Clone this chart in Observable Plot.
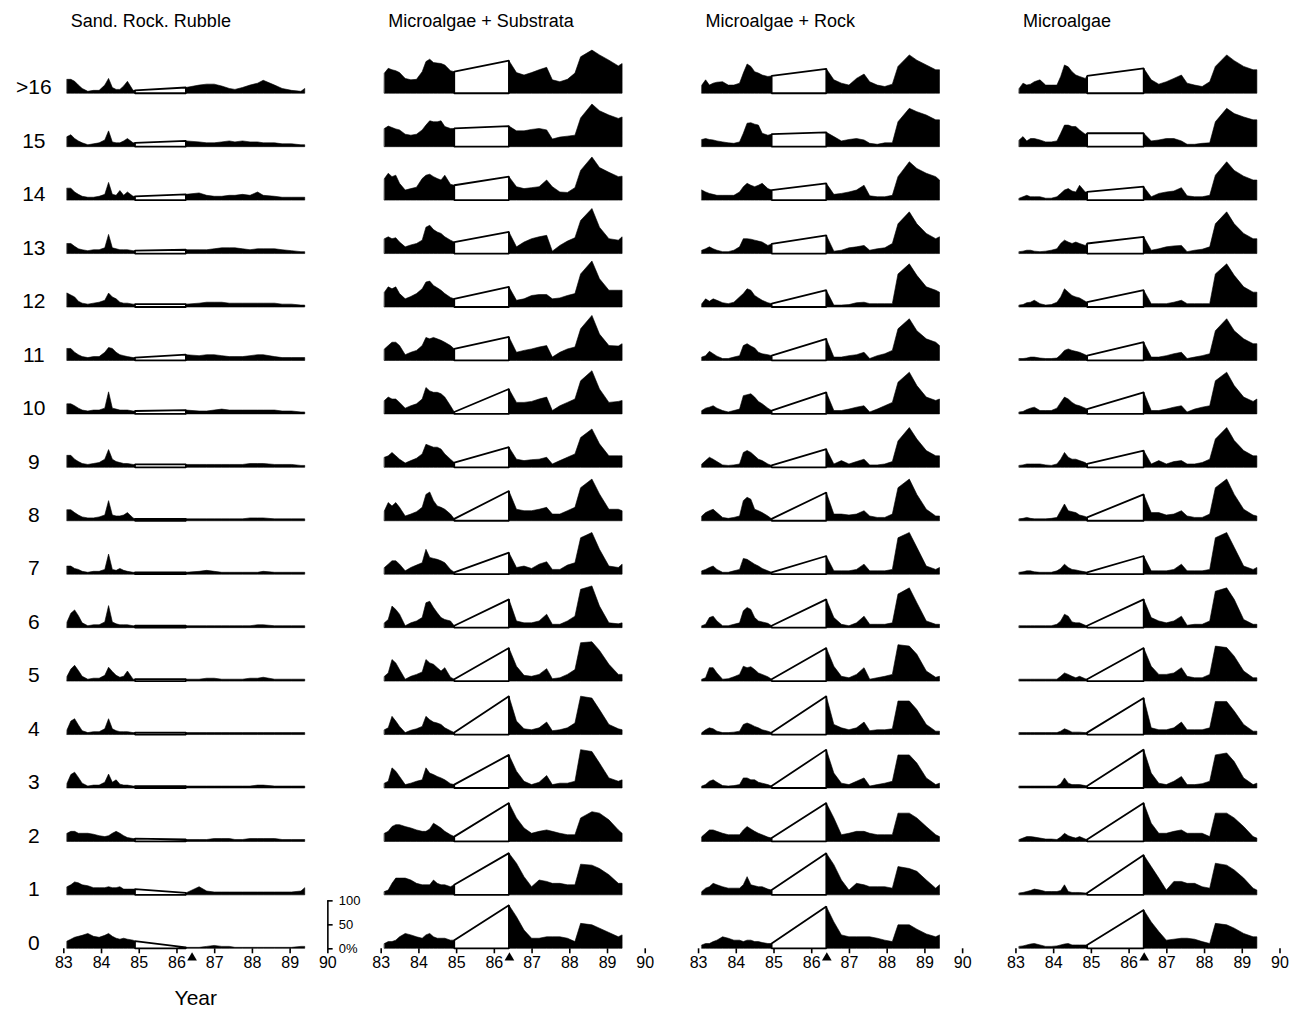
<!DOCTYPE html>
<html><head><meta charset="utf-8">
<script src="https://cdn.jsdelivr.net/npm/d3@7"></script>
<script src="https://cdn.jsdelivr.net/npm/@observablehq/plot@0.6"></script>
<style>html,body{margin:0;padding:0;background:#fff;} #chart{width:1293px;height:1010px;}</style>
</head><body><div id="chart"></div><script>
const panels = ["Sand. Rock. Rubble", "Microalgae + Substrata", "Microalgae + Rock", "Microalgae"];
const rowLabels = [">16","15","14","13","12","11","10","9","8","7","6","5","4","3","2","1","0"];
const yearTicks = [83,84,85,86,87,88,89,90];
const scaleTicks = [0, 50, 100];
const seg1Years = [83.1,83.2,83.3,83.4,83.5,83.65,83.8,83.95,84.1,84.2,84.3,84.4,84.5,84.6,84.7,84.85,84.95];
const seg2Years = [86.4,86.6,86.8,87.0,87.2,87.4,87.55,87.75,87.95,88.15,88.3,88.6,88.8,89.05,89.3,89.4];
const gapStart = [84.9, 84.95, 84.95, 84.9];
const gapEnd = [86.25, 86.4, 86.4, 86.4];
const eventYear = [86.4, 86.4, 86.4, 86.4];

// % cover per depth row (>16 ... 0): 17 values before the gap, 16 after
const sandRockRubble = [
 [29,29,25,17,10,4,6,6,17,31,12,8,8,15,25,6,6, 12,17,19,19,15,10,8,12,17,21,27,17,10,6,4,10],
 [21,25,17,12,8,4,6,8,14,33,10,8,8,12,17,8,8, 12,10,8,8,10,12,10,12,10,10,8,8,6,6,4,4],
 [25,25,17,12,8,6,6,8,12,37,12,10,20,10,17,8,8, 12,15,10,8,8,10,10,12,10,17,10,8,6,6,6,6],
 [21,21,15,10,8,6,8,8,12,40,12,10,8,8,8,6,6, 8,8,8,10,12,12,12,10,8,10,10,10,8,6,4,4],
 [29,25,21,12,8,6,8,10,14,29,21,17,10,8,8,6,6, 6,8,10,10,10,8,8,8,8,8,8,8,6,6,4,4],
 [25,25,17,12,8,6,8,8,17,27,25,17,12,10,8,6,6, 12,10,12,12,10,8,8,8,10,12,12,8,6,6,6,6],
 [21,21,17,12,8,6,8,8,12,46,12,10,8,8,8,6,6, 8,6,6,8,10,8,8,8,8,8,8,8,6,6,4,4],
 [25,25,17,12,8,6,8,10,17,37,17,12,10,8,8,6,6, 6,6,6,6,6,6,6,6,8,8,8,6,6,6,4,4],
 [23,23,17,12,8,6,6,8,12,42,12,10,10,12,17,6,4, 4,4,4,4,4,4,4,4,6,6,6,4,4,4,4,4],
 [17,17,12,10,6,4,6,6,10,42,10,8,12,8,6,4,4, 4,6,8,6,4,4,4,4,4,4,6,4,4,4,4,4],
 [12,30,37,25,10,4,6,6,12,46,12,8,6,6,6,4,4, 4,4,4,4,4,4,4,4,4,6,6,4,4,4,4,4],
 [10,25,33,22,10,4,6,6,12,29,20,12,8,10,21,4,4, 4,4,6,6,4,4,4,4,6,6,8,4,4,4,4,4],
 [10,28,33,20,8,4,6,6,12,33,12,8,6,6,6,4,4, 4,4,4,4,4,4,4,4,4,4,4,4,4,4,4,4],
 [10,28,33,22,10,4,6,6,12,29,12,17,8,6,6,4,4, 4,4,4,4,4,4,4,4,4,6,6,4,4,4,4,4],
 [17,21,21,17,17,17,15,12,10,12,17,21,17,12,8,6,6, 4,4,4,6,6,6,4,4,6,6,6,6,4,4,4,4],
 [17,21,27,25,21,19,15,15,15,17,15,15,17,12,12,12,12, 4,17,8,6,6,6,6,6,6,6,6,6,6,6,8,15],
 [15,19,23,25,27,31,25,23,27,31,25,21,19,21,19,17,15, 2,2,4,6,4,4,2,2,2,2,2,2,2,2,4,4]
];
const microalgaeSubstrata = [
 [42,52,49,47,43,31,28,29,45,66,71,64,63,62,59,47,45, 68,43,38,43,49,54,28,24,29,42,76,90,80,69,57,62],
 [38,43,40,37,35,26,24,26,35,45,54,52,52,54,42,38,38, 43,33,33,36,38,35,16,20,22,24,60,89,75,66,59,62],
 [45,56,49,52,35,21,24,27,45,52,54,49,45,42,52,33,31, 49,28,24,26,28,42,28,17,16,26,62,90,68,58,49,50],
 [31,35,31,33,24,14,18,21,28,55,59,50,45,42,35,28,24, 45,14,24,31,35,38,5,17,26,33,69,94,55,31,28,35],
 [31,42,38,42,28,17,22,28,38,52,54,45,40,35,28,20,17, 42,14,17,24,26,26,17,19,24,28,69,96,59,35,35,35],
 [24,31,38,38,31,12,17,21,31,48,45,48,45,42,38,31,24, 49,17,21,24,28,31,7,17,24,28,66,94,55,31,30,35],
 [28,35,31,31,24,12,17,21,31,55,48,45,45,42,35,17,4, 52,24,24,26,31,35,7,17,24,31,69,90,52,24,26,28],
 [21,24,31,24,17,9,14,19,28,48,45,42,42,38,28,17,10, 42,17,14,16,17,21,7,14,21,28,62,80,49,24,24,24],
 [21,38,31,38,28,10,14,19,28,55,60,42,31,28,24,14,4, 62,24,21,21,24,28,14,14,21,28,69,87,56,24,24,21],
 [14,21,28,28,21,7,14,19,24,52,35,33,31,28,24,10,4, 45,14,17,12,21,26,10,10,19,24,76,87,52,17,14,21],
 [10,17,45,38,28,4,10,14,21,52,55,42,31,21,17,14,4, 59,14,10,10,14,28,7,7,14,24,80,87,45,10,8,10],
 [10,17,45,38,24,4,10,14,19,45,38,35,28,21,28,8,4, 69,31,12,10,14,26,5,7,14,24,80,82,64,35,14,14],
 [10,14,38,28,17,4,9,12,17,38,31,26,24,21,14,8,4, 80,28,12,10,14,26,8,10,14,24,80,76,52,21,12,10],
 [10,14,42,35,24,7,10,14,17,42,31,28,24,21,17,9,7, 69,35,14,7,12,26,7,10,10,14,80,76,52,21,14,17],
 [17,21,31,35,35,31,28,24,21,21,26,38,33,28,21,14,10, 80,49,28,17,21,24,21,17,14,14,49,62,59,45,24,17],
 [7,10,24,35,35,35,31,24,21,21,21,31,24,21,21,17,21, 87,66,38,17,31,28,24,24,21,21,64,62,55,42,24,24],
 [10,14,14,17,24,31,28,24,21,28,31,24,21,21,21,17,17, 90,66,38,21,21,24,24,24,21,14,52,49,42,33,24,28]
];
const microalgaeRock = [
 [17,28,17,21,23,24,17,17,21,42,61,56,45,42,38,35,36, 51,28,21,17,31,40,24,17,14,19,56,80,69,59,49,49],
 [15,17,15,14,12,10,8,7,10,28,49,50,47,45,28,24,26, 30,21,12,15,17,14,7,5,8,8,52,80,73,66,56,56],
 [21,17,14,12,10,10,10,10,17,28,35,31,28,31,35,24,21, 35,12,14,17,21,31,9,7,7,10,49,80,66,56,49,42],
 [7,10,14,10,7,4,4,7,14,31,31,30,28,26,24,17,20, 38,5,7,12,14,17,7,10,12,21,62,87,62,42,31,35],
 [7,17,12,17,14,9,7,10,21,28,38,35,24,19,14,9,7, 35,4,4,5,9,10,7,7,7,7,69,90,66,42,35,31],
 [7,10,19,14,9,4,4,7,10,31,35,30,26,17,14,12,10, 45,7,7,10,12,17,4,10,14,21,66,87,62,45,38,31],
 [7,12,14,17,12,7,4,7,10,38,40,42,35,26,21,12,7, 45,7,7,10,14,17,4,10,17,24,66,87,59,35,28,31],
 [7,14,21,17,12,5,4,5,7,31,35,31,24,17,14,7,4, 38,7,14,7,12,17,5,5,7,12,55,83,59,35,24,24],
 [10,17,21,24,17,7,5,7,10,42,49,45,24,21,17,10,4, 59,14,14,12,14,21,10,7,7,14,69,87,55,24,10,10],
 [7,10,14,17,10,4,4,7,10,33,31,26,21,17,12,7,4, 38,7,7,7,10,21,7,7,7,10,76,87,56,17,10,14],
 [4,7,21,24,14,4,4,7,10,35,42,38,21,14,12,9,4, 59,21,7,4,10,24,7,7,7,10,70,83,52,14,7,7],
 [4,7,28,28,17,4,5,9,14,31,28,30,24,17,14,9,4, 69,31,10,7,14,28,4,7,10,14,76,73,56,21,8,10],
 [4,10,14,12,7,4,4,5,7,21,24,21,17,14,10,7,4, 80,21,14,10,14,26,8,10,10,12,70,70,52,21,7,7],
 [4,7,14,17,12,5,4,5,7,21,21,17,17,12,10,7,4, 80,31,10,7,14,21,4,7,10,14,69,69,52,21,7,10],
 [10,17,24,24,21,17,14,14,14,24,31,26,21,17,14,9,7, 80,49,14,17,21,21,17,14,14,14,59,59,49,31,14,10],
 [7,14,17,24,21,17,14,14,14,21,38,21,19,17,17,12,10, 87,63,31,10,24,21,17,17,17,14,59,55,49,31,14,21],
 [7,10,10,14,17,24,21,17,17,14,17,17,14,14,12,10,10, 87,55,28,24,24,24,24,21,17,14,49,49,40,30,24,28]
];
const microalgae = [
 [10,21,17,19,24,28,17,17,17,35,59,55,45,38,35,31,36, 52,28,19,24,31,38,21,17,14,24,56,80,68,56,49,49],
 [14,21,12,17,17,14,10,10,12,28,45,45,42,42,35,26,28, 28,12,14,17,17,12,5,5,7,8,52,80,69,62,56,56],
 [4,7,10,7,7,7,4,4,7,14,21,24,19,17,31,17,17, 28,7,14,17,19,26,9,7,7,10,52,80,62,50,42,42],
 [4,5,7,7,5,4,5,7,10,21,28,24,21,24,21,17,21, 35,7,10,14,16,17,4,7,9,14,62,87,62,42,31,31],
 [4,5,9,10,14,7,4,5,10,21,38,31,24,21,19,12,10, 35,7,7,7,10,14,7,7,7,7,69,90,66,42,31,31],
 [4,4,5,7,7,5,4,4,5,12,21,24,21,19,17,12,10, 38,7,7,10,14,17,4,7,10,14,62,87,62,45,35,35],
 [4,5,9,12,14,7,7,7,12,24,35,31,24,19,17,12,10, 45,7,7,10,14,17,4,10,14,17,69,87,59,35,26,31],
 [4,5,7,7,7,7,5,4,7,17,31,21,17,17,14,10,7, 35,7,14,7,12,14,7,7,10,17,59,83,56,35,24,24],
 [4,5,7,5,4,4,4,5,7,21,35,21,19,17,12,9,7, 55,17,17,12,14,21,10,7,7,14,69,87,55,24,12,10],
 [4,5,7,7,5,4,4,4,7,12,21,14,10,9,7,5,4, 38,7,7,7,10,21,7,7,7,10,76,87,56,17,10,14],
 [4,4,4,4,4,4,4,4,7,14,28,24,12,10,10,5,4, 59,21,14,10,14,24,5,7,7,14,76,83,59,17,7,7],
 [4,4,4,4,4,4,4,4,4,10,17,14,10,7,10,5,4, 69,31,14,14,17,28,10,7,7,14,73,70,52,21,7,7],
 [4,4,4,4,4,4,4,4,4,7,12,9,5,5,5,4,4, 76,14,10,10,14,26,10,10,10,14,69,69,49,21,7,7],
 [4,4,4,4,4,4,4,4,4,9,21,10,7,7,7,5,4, 80,31,10,7,14,24,7,7,9,14,69,73,55,21,7,10],
 [4,7,10,10,9,7,5,5,4,9,17,12,9,7,10,5,4, 80,38,17,17,21,24,17,17,17,10,59,59,49,31,10,7],
 [4,5,7,9,12,10,7,7,7,9,21,7,5,5,5,4,4, 83,59,35,10,28,28,24,24,17,14,66,62,52,35,14,10],
 [4,5,7,9,10,7,4,4,5,7,9,10,7,7,7,7,7, 80,55,35,17,19,21,21,19,14,10,52,49,42,31,24,24]
];

const seriesByPanel = [sandRockRubble, microalgaeSubstrata, microalgaeRock, microalgae];
const n1 = seg1Years.length;
const black = [], gaps = [];
panels.forEach((panel, p) => {
  seriesByPanel[p].forEach((vals, r) => {
    const row = rowLabels[r];
    vals.forEach((v, i) => {
      let seg, year;
      if (i < n1) { seg = 1; year = i === n1 - 1 ? gapStart[p] : seg1Years[i]; }
      else { seg = 2; const j = i - n1; year = j === 0 ? gapEnd[p] : seg2Years[j]; }
      black.push({panel, row, seg, year, value: v});
    });
    gaps.push({panel, row, year: gapStart[p], value: vals[n1 - 1]});
    gaps.push({panel, row, year: gapEnd[p], value: vals[n1]});
  });
});
const xMax = yearTicks[yearTicks.length - 1];
const bottomRow = rowLabels[rowLabels.length - 1];
const scaleData = scaleTicks.map(v => ({panel: panels[0], row: bottomRow, value: v}));
const events = panels.map((panel, p) => ({panel, row: bottomRow, year: eventYear[p]}));

const chart = Plot.plot({
  width: 1293, height: 1010,
  marginTop: 45.3, marginBottom: 61.7, marginLeft: 63.3, marginRight: 13.5,
  x: {domain: [83, 90]},
  y: {domain: [0, 100], axis: null},
  fx: {domain: panels, paddingInner: 0.168, paddingOuter: 0, round: false, axis: null},
  fy: {domain: rowLabels, paddingInner: 0.103, paddingOuter: 0, round: false, axis: null},
  style: {fontFamily: "'Liberation Sans', Arial, sans-serif", color: "black", background: "white"},
  marks: [
    Plot.areaY(black, {x: "year", y: "value", z: "seg", fx: "panel", fy: "row", fill: "black", stroke: "black", strokeWidth: 0.6}),
    Plot.areaY(gaps, {x: "year", y: "value", fx: "panel", fy: "row", fill: "white", stroke: "black", strokeWidth: 1.8, strokeLinejoin: "miter"}),
    Plot.axisX({ticks: yearTicks, tickFormat: d => String(d), tickSize: 5, tickPadding: 3, fontSize: 16, line: true, label: null, strokeWidth: 1.6}),
    Plot.dot(events, {x: "year", y: () => 0, fx: "panel", fy: "row", symbol: "triangle", r: 3.6, fill: "black", dy: 9}),
    Plot.ruleX(scaleData.slice(0, 1), {x: () => xMax, y1: () => 0, y2: () => scaleTicks[scaleTicks.length - 1], fx: "panel", fy: "row", strokeWidth: 1.6}),
    Plot.ruleY(scaleData, {y: "value", x1: () => xMax, x2: () => xMax + 0.14, fx: "panel", fy: "row", strokeWidth: 1.6}),
    Plot.text(scaleData, {x: () => xMax, y: "value", text: d => d.value === 0 ? "0%" : String(d.value), fx: "panel", fy: "row", textAnchor: "start", dx: 11, fontSize: 13}),
    Plot.text(rowLabels, {text: d => d, fx: () => panels[0], fy: d => d, frameAnchor: "bottom-left", dx: -30, dy: -6, textAnchor: "middle", lineAnchor: "middle", fontSize: 21}),
    Plot.text(panels, {text: d => d, fx: d => d, fy: () => rowLabels[0], frameAnchor: "top-left", dx: 7, dy: -25, textAnchor: "start", lineAnchor: "middle", fontSize: 18}),
    Plot.text(["Year"], {text: d => d, fx: () => panels[0], fy: () => bottomRow, frameAnchor: "bottom", dy: 49, lineAnchor: "middle", fontSize: 21})
  ]
});
document.getElementById("chart").append(chart);
</script></body></html>
